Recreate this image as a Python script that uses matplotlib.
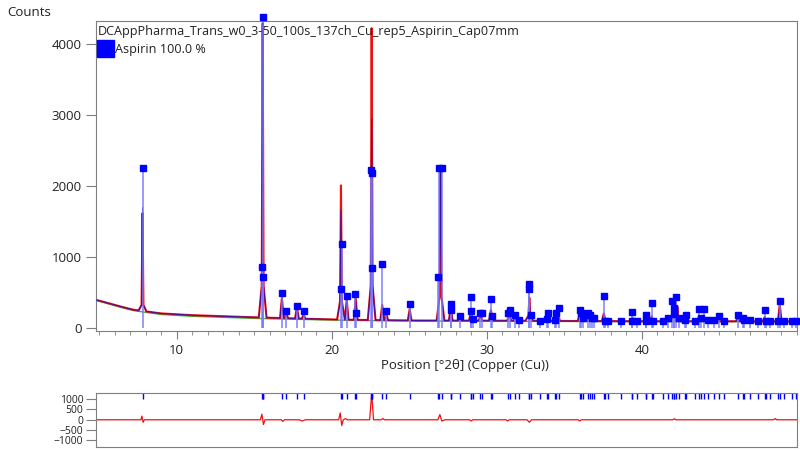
import numpy as np
import matplotlib
matplotlib.use("Agg")
import matplotlib.pyplot as plt
from matplotlib.patches import Rectangle

plt.rcParams['font.family'] = ['Open Sans', 'DejaVu Sans']

# background under the observed pattern (2theta, counts)
bg_x = [4.8, 5.5, 6.5, 7.2, 9.0, 11.0, 13.0, 15.0, 18.8, 20.0, 22.0, 25.6, 30.8, 35.0, 40.0, 45.0, 50.0]
bg_y = [400, 360, 300, 262, 210, 185, 170, 155, 132, 125, 118, 110, 108, 104, 100, 100, 98]

# fitted background (green)
bgfit_y = [395, 350, 290, 250, 195, 170, 155, 140, 122, 117, 110, 103, 100, 97, 94, 94, 93]

# profile peaks: position, observed top, calculated top, foot height (0 = none)
pk_pos = [7.80, 15.55, 16.79, 17.08, 17.76, 18.19, 20.60, 20.97, 21.55, 22.58,
          23.26, 23.52, 25.03, 27.02, 27.68, 28.26, 28.98, 29.60, 30.27, 31.45,
          31.84, 32.75, 33.90, 34.60, 36.00, 36.60, 37.55, 39.40, 40.64, 42.10,
          42.32, 43.70, 44.00, 46.20, 47.93, 48.90]
pk_obs = [1620, 4290, 430, 200, 300, 190, 2010, 400, 420, 4220,
          330, 210, 270, 2230, 300, 160, 230, 180, 260, 230,
          170, 430, 170, 210, 240, 190, 210, 150, 170, 360,
          300, 170, 160, 150, 160, 340]
pk_calc = [1700, 4330, 410, 190, 290, 180, 1660, 390, 400, 2950,
           300, 200, 250, 2200, 280, 150, 220, 170, 250, 220,
           160, 450, 160, 200, 240, 180, 200, 140, 160, 330,
           290, 160, 150, 140, 150, 300]
pk_foot = [330, 600, 0, 0, 0, 0, 380, 0, 0, 600,
           0, 0, 0, 450, 0, 0, 0, 0, 0, 0,
           0, 180, 0, 0, 0, 0, 0, 0, 0, 200,
           0, 0, 0, 0, 0, 0]

# reference pattern of aspirin (sticks with squares)
ref_pos = [7.80, 15.50, 15.55, 15.60, 16.79, 17.08, 17.76, 18.19, 20.58, 20.65,
           20.97, 21.53, 21.58, 22.55, 22.58, 22.62, 23.26, 23.52, 25.03, 26.88,
           26.95, 27.10, 27.68, 27.72, 28.27, 28.98, 29.00, 29.10, 29.55, 29.72,
           30.28, 30.35, 31.40, 31.50, 31.84, 32.08, 32.72, 32.73, 32.85, 33.41,
           33.91, 33.95, 34.40, 34.50, 34.67, 36.00, 36.10, 36.20, 36.55, 36.65,
           36.80, 36.95, 37.55, 37.60, 37.85, 38.65, 39.35, 39.40, 39.70, 40.25,
           40.30, 40.64, 40.70, 41.38, 41.70, 41.96, 42.05, 42.10, 42.23, 42.40,
           42.80, 42.88, 43.42, 43.68, 43.80, 44.00, 44.30, 44.65, 44.95, 45.30,
           46.20, 46.50, 46.60, 47.00, 47.50, 47.93, 48.00, 48.30, 48.80, 48.90,
           49.20, 49.70, 49.95]
ref_int = [2250, 860, 4380, 720, 497, 240, 310, 240, 550, 1190,
           455, 480, 215, 2220, 845, 2180, 910, 250, 345, 720,
           2250, 2260, 338, 253, 173, 441, 240, 130, 220, 220,
           418, 170, 220, 253, 193, 120, 550, 630, 193, 100,
           130, 220, 120, 220, 290, 265, 215, 150, 215, 185,
           150, 150, 450, 100, 100, 110, 100, 230, 100, 185,
           100, 355, 100, 100, 150, 385, 280, 200, 445, 150,
           120, 190, 110, 270, 150, 270, 120, 120, 170, 110,
           190, 150, 120, 120, 110, 253, 110, 110, 100, 380,
           110, 110, 100]

# difference plot (observed - calculated)
diff_x = [4.8, 7.70, 7.76, 7.84, 7.92, 8.1, 12.0, 15.40, 15.50, 15.60, 15.70, 15.9,
          16.75, 16.85, 16.95, 17.9, 18.1, 18.3, 20.45, 20.55, 20.65, 20.75, 20.9, 21.0,
          22.45, 22.58, 22.70, 23.2, 23.3, 23.4, 26.85, 26.98, 27.1, 27.3,
          28.9, 29.0, 29.1, 31.25, 31.35, 31.45, 32.6, 32.75, 32.9,
          35.9, 36.0, 36.1, 42.0, 42.1, 42.2, 48.5, 48.6, 48.7, 50.0]
diff_y = [0, 0, 180, -120, 0, 0, 0, 0, 270, -230, 0, 0,
          0, -80, 0, 0, -60, 0, 0, 330, -280, 0, 60, 0,
          0, 1270, 0, 0, 60, 0, 0, 250, -60, 0,
          0, -60, 0, 0, -60, 0, 0, -120, 0,
          0, -60, 0, 0, 50, 0, 0, 60, 0, 0]

TITLE = "DCAppPharma_Trans_w0_3-50_100s_137ch_Cu_rep5_Aspirin_Cap07mm"


def build_profile(tops):
  '''joins background points and peak apexes into one polyline'''
  xs = list(bg_x)
  ys = list(bg_y)
  for p, h, f in zip(pk_pos, tops, pk_foot):
    half = 0.25 if f > 0 else 0.12
    for x in (p - half, p + half):
      xs.append(x)
      ys.append(np.interp(x, bg_x, bg_y))
    if f > 0:
      xs += [p - 0.06, p + 0.06]
      ys += [f, f]
    xs.append(p)
    ys.append(h)
  order = np.argsort(xs)
  return np.array(xs)[order], np.array(ys)[order]


def style_axes(ax):
  for sp in ax.spines.values():
    sp.set_color('#7f7f7f')
  ax.tick_params(colors='#7f7f7f', labelcolor='#222222', labelsize=9.5)


fig = plt.figure(figsize=(8, 4.5), dpi=100)
ax = fig.add_axes([0.12, 0.264, 0.876, 0.689])
style_axes(ax)

ax.plot(bg_x, bgfit_y, color='#3cb043', lw=1, zorder=1)
ox, oy = build_profile(pk_obs)
ax.plot(ox, oy, color='#ee1010', lw=1.5, zorder=2)
cx, cy = build_profile(pk_calc)
ax.plot(cx, cy, color='#1010c8', lw=0.7, zorder=3, alpha=0.8)

ax.vlines(ref_pos, 0, ref_int, color='#7878ff', lw=1.3, alpha=0.8, zorder=4)
ax.plot(ref_pos, ref_int, 's', color='#0000ff', ms=4.5, zorder=5, clip_on=False)

ax.set_xlim(4.8, 50.0)
ax.set_ylim(-40, 4320)
ax.set_xticks([10, 20, 30, 40])
ax.set_xticks(np.arange(5, 51, 1), minor=True)
ax.set_yticks([0, 1000, 2000, 3000, 4000])
ax.tick_params(axis='x', which='major', length=6)
ax.tick_params(axis='x', which='minor', length=3, colors='#7f7f7f')
ax.tick_params(axis='y', length=7)

ax.text(0.003, 0.968, TITLE, transform=ax.transAxes, fontsize=9.1,
        color='#222222', va='center', ha='left')
ax.add_patch(Rectangle((0.0015, 0.884), 0.024, 0.055, transform=ax.transAxes,
                       color='#0000ff', zorder=6))
ax.text(0.027, 0.91, "Aspirin 100.0 %", transform=ax.transAxes, fontsize=9.1,
        color='#222222', va='center', ha='left')

fig.text(7 / 800, 1 - 13 / 450, "Counts", fontsize=9.5, color='#222222',
         va='center', ha='left')
fig.text(465 / 800, 1 - 365 / 450, "Position [°2θ] (Copper (Cu))", fontsize=9.5,
         color='#222222', va='center', ha='center')

# lower panel: difference curve and reference tick marks
ax2 = fig.add_axes([0.12, 0.0067, 0.876, 0.12])
style_axes(ax2)
ax2.plot(diff_x, diff_y, color='#ee1010', lw=0.9)
ax2.vlines(ref_pos, 1030, 1300, color='#0000ff', lw=1)
ax2.set_xlim(4.8, 50.0)
ax2.set_ylim(-1320, 1300)
ax2.set_xticks([])
ax2.set_yticks([1000, 500, 0, -500, -1000])
ax2.tick_params(axis='y', length=7, labelsize=7.5, pad=2)

fig.savefig("out.png", dpi=100)
